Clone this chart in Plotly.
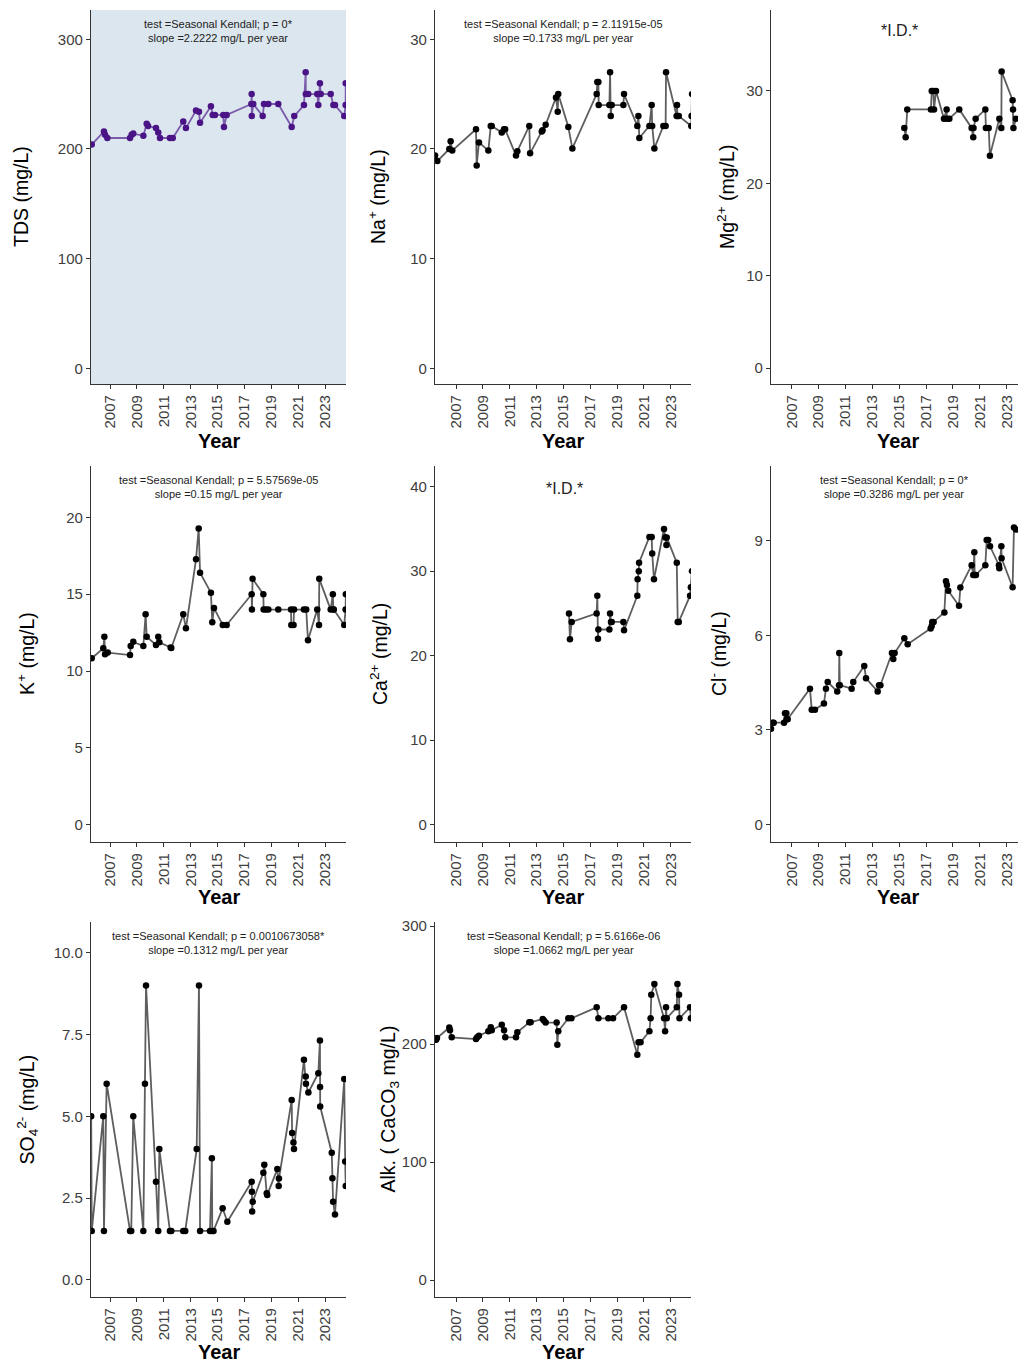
import plotly.graph_objects as go

# ---------------- data (decimal year, mg/L) ----------------
tds_year = [2005.64, 2006.55, 2006.63, 2006.80, 2008.49, 2008.61, 2008.73, 2009.48, 2009.73, 2009.83,
            2010.42, 2010.59, 2010.72, 2011.46, 2011.67, 2012.45, 2012.65, 2013.40, 2013.62, 2013.70,
            2014.51, 2014.64, 2014.81, 2015.43, 2015.48, 2015.68, 2017.52, 2017.54, 2017.55, 2017.66,
            2018.36, 2018.46, 2018.78, 2019.52, 2020.52, 2020.71, 2021.43, 2021.56, 2021.57, 2021.75,
            2022.42, 2022.50, 2022.62, 2022.68, 2023.42, 2023.62, 2023.74, 2024.43, 2024.53, 2024.54]
tds_val = [204, 216, 213, 210, 210, 213, 214, 212, 223, 221,
           219, 215, 210, 210, 210, 225, 219, 235, 234, 224,
           239, 231, 231, 231, 220, 231, 241, 250, 230, 241,
           230, 241, 241, 241, 220, 230, 240, 270, 250, 250,
           250, 240, 260, 250, 250, 240, 240, 230, 240, 260]

na_year = [2005.44, 2005.61, 2006.50, 2006.60, 2006.72, 2008.49, 2008.54, 2008.71, 2009.41, 2009.59,
           2009.66, 2010.41, 2010.58, 2010.66, 2011.47, 2011.57, 2012.46, 2012.52, 2013.39, 2013.45,
           2013.68, 2014.45, 2014.58, 2014.62, 2015.37, 2015.67, 2017.48, 2017.53, 2017.61, 2017.63,
           2018.43, 2018.48, 2018.53, 2018.60, 2019.47, 2019.52, 2020.51, 2020.59, 2020.66, 2021.41,
           2021.58, 2021.62, 2021.78, 2022.45, 2022.62, 2022.65, 2023.44, 2023.47, 2023.50, 2023.60,
           2024.53, 2024.55, 2024.58]
na_val = [19.4, 18.9, 20.0, 20.7, 19.85, 21.8, 18.5, 20.6, 19.85, 22.1,
          22.1, 21.5, 21.8, 21.8, 19.4, 19.8, 22.1, 19.6, 21.6, 21.7,
          22.2, 24.7, 23.4, 25.0, 22.0, 20.05, 25.0, 26.1, 26.1, 24.0,
          24.0, 27.0, 23.0, 24.0, 24.0, 25.0, 22.1, 23.0, 21.0, 22.1,
          24.0, 22.1, 20.05, 22.1, 22.1, 27.0, 23.0, 24.0, 23.0, 23.0,
          22.1, 23.0, 25.0]

mg_year = [2015.38, 2015.48, 2015.60, 2017.36, 2017.42, 2017.54, 2017.59, 2017.74, 2018.33, 2018.53,
           2018.55, 2018.73, 2019.47, 2020.39, 2020.51, 2020.53, 2020.69, 2021.41, 2021.45, 2021.66,
           2021.75, 2022.45, 2022.60, 2022.62, 2023.44, 2023.47, 2023.50, 2023.69]
mg_val = [26.0, 25.0, 28.0, 28.0, 30.0, 30.0, 28.0, 30.0, 27.0, 28.0,
          27.0, 27.0, 28.0, 26.0, 25.0, 26.0, 27.0, 28.0, 26.0, 26.0,
          23.0, 27.0, 26.0, 32.1, 29.0, 28.0, 26.0, 27.0]

k_year = [2005.64, 2006.50, 2006.58, 2006.63, 2006.83, 2008.49, 2008.54, 2008.73, 2009.48, 2009.65,
          2009.73, 2010.42, 2010.59, 2010.67, 2011.51, 2011.56, 2012.45, 2012.65, 2013.40, 2013.60,
          2013.70, 2014.51, 2014.61, 2014.74, 2015.39, 2015.68, 2017.54, 2017.56, 2017.61, 2018.41,
          2018.43, 2018.60, 2018.78, 2019.52, 2020.47, 2020.49, 2020.66, 2020.69, 2021.43, 2021.60,
          2021.73, 2022.42, 2022.55, 2022.57, 2023.42, 2023.58, 2023.62, 2023.65, 2024.43, 2024.53,
          2024.55]
k_val = [10.83, 11.48, 12.23, 11.10, 11.20, 11.04, 11.63, 11.90, 11.63, 13.70,
         12.23, 11.70, 12.23, 11.87, 11.54, 11.50, 13.70, 12.78, 17.27, 19.28,
         16.40, 15.10, 13.17, 14.10, 13.00, 13.00, 15.00, 14.00, 16.00, 15.00,
         14.00, 14.00, 14.00, 14.00, 14.00, 13.00, 13.00, 14.00, 14.00, 14.00,
         12.00, 14.00, 13.00, 16.00, 14.00, 15.00, 14.00, 14.00, 13.00, 14.00,
         15.00]

ca_year = [2015.42, 2015.49, 2015.62, 2017.48, 2017.53, 2017.58, 2017.61, 2018.43, 2018.48, 2018.55,
           2018.60, 2019.47, 2019.52, 2020.51, 2020.53, 2020.62, 2020.64, 2021.41, 2021.58, 2021.62,
           2021.75, 2022.50, 2022.60, 2022.68, 2022.70, 2023.45, 2023.52, 2023.60, 2024.44, 2024.50,
           2024.58]
ca_val = [25.0, 21.95, 24.0, 25.0, 27.1, 22.0, 23.1, 23.1, 25.0, 24.0,
          24.0, 24.0, 23.0, 27.1, 29.05, 30.0, 31.0, 34.06, 34.06, 32.1,
          29.05, 35.0, 34.0, 33.1, 34.0, 31.0, 24.0, 24.0, 27.1, 28.1,
          30.0]

cl_year = [2005.46, 2005.59, 2005.66, 2006.43, 2006.50, 2006.60, 2006.62, 2006.70, 2008.36, 2008.49,
           2008.73, 2009.40, 2009.55, 2009.68, 2010.39, 2010.52, 2010.54, 2010.58, 2011.46, 2011.58,
           2012.40, 2012.53, 2013.40, 2013.50, 2013.60, 2014.46, 2014.56, 2014.66, 2015.38, 2015.63,
           2017.34, 2017.42, 2017.46, 2017.56, 2018.36, 2018.48, 2018.55, 2018.65, 2019.45, 2019.55,
           2020.39, 2020.51, 2020.59, 2020.62, 2020.71, 2021.41, 2021.51, 2021.62, 2021.76, 2022.42,
           2022.45, 2022.60, 2022.62, 2023.44, 2023.54, 2023.69]
cl_val = [3.04, 3.23, 3.23, 3.23, 3.53, 3.53, 3.34, 3.34, 4.31, 3.64,
          3.64, 3.84, 4.31, 4.52, 4.22, 4.42, 5.44, 4.42, 4.31, 4.52,
          5.03, 4.64, 4.22, 4.42, 4.42, 5.44, 5.25, 5.44, 5.91, 5.72,
          6.22, 6.30, 6.43, 6.43, 6.73, 7.72, 7.60, 7.42, 6.94, 7.52,
          8.23, 7.92, 8.64, 7.92, 7.92, 8.23, 9.03, 9.03, 8.83, 8.23,
          8.13, 8.83, 8.45, 7.53, 9.43, 9.36]

so4_year = [2005.60, 2005.64, 2006.50, 2006.55, 2006.75, 2008.49, 2008.58, 2008.73, 2009.48, 2009.60,
            2009.68, 2010.42, 2010.59, 2010.67, 2011.46, 2011.56, 2012.45, 2012.60, 2013.45, 2013.62,
            2013.70, 2014.44, 2014.58, 2014.61, 2014.70, 2015.38, 2015.73, 2017.54, 2017.56, 2017.58,
            2017.62, 2018.41, 2018.48, 2018.66, 2018.70, 2019.45, 2019.55, 2019.57, 2020.52, 2020.55,
            2020.65, 2020.69, 2021.43, 2021.56, 2021.58, 2021.76, 2022.50, 2022.62, 2022.63, 2022.64,
            2023.50, 2023.55, 2023.60, 2023.74, 2024.43, 2024.50, 2024.54]
so4_val = [5.0, 1.5, 5.0, 1.5, 6.0, 1.5, 1.5, 5.0, 1.5, 6.0,
           9.0, 3.0, 1.5, 4.0, 1.5, 1.5, 1.5, 1.5, 4.0, 9.0,
           1.5, 1.5, 3.72, 1.5, 1.5, 2.19, 1.78, 3.0, 2.7, 2.09,
           2.39, 3.28, 3.52, 2.65, 2.6, 3.39, 2.87, 3.1, 5.5, 4.49,
           4.2, 4.0, 6.73, 6.22, 6.0, 5.73, 6.32, 7.32, 5.9, 5.3,
           3.89, 3.11, 2.39, 2.0, 6.14, 3.62, 2.87]

alk_year = [2005.51, 2005.58, 2006.50, 2006.55, 2006.68, 2008.49, 2008.58, 2008.71, 2009.41, 2009.59,
            2009.66, 2010.41, 2010.58, 2010.67, 2011.47, 2011.57, 2012.46, 2012.56, 2013.46, 2013.55,
            2013.68, 2014.50, 2014.55, 2014.62, 2015.37, 2015.60, 2017.48, 2017.61, 2018.35, 2018.70,
            2019.52, 2020.51, 2020.60, 2020.75, 2021.41, 2021.50, 2021.55, 2021.78, 2022.50, 2022.58,
            2022.65, 2022.70, 2023.45, 2023.50, 2023.62, 2023.65, 2024.44, 2024.50, 2024.60]
alk_val = [203.6, 205.0, 214.0, 211.6, 205.7, 204.2, 205.7, 207.0, 210.8, 214.1,
           211.7, 216.4, 211.7, 205.7, 205.7, 210.0, 218.4, 218.4, 221.2, 220.0,
           218.2, 218.2, 199.4, 210.8, 221.8, 221.8, 231.1, 221.8, 221.8, 221.8,
           231.1, 190.9, 201.4, 201.4, 210.8, 221.8, 241.8, 250.8, 221.8, 210.8,
           231.1, 221.8, 231.1, 250.8, 241.8, 221.8, 231.1, 221.8, 221.8]

# ---------------- panel definitions ----------------
W, H = 1018, 1362
col_px = [(91, 346), (435, 691), (771, 1018)]
row_px = [(10, 384), (466, 842), (922, 1297)]
year_title_px = [441, 897, 1351.5]
col_xrange = [[2005.586, 2024.56], [2005.435, 2024.51], [2005.46, 2023.84]]

panels = [
    dict(x=tds_year, y=tds_val, row=0, col=0, yrange=[-14.3, 326.7], ticks=[0, 100, 200, 300],
         title="TDS (mg/L)", tx=21, note="test =Seasonal Kendall; p = 0*<br>slope =2.2222 mg/L per year",
         hl=True),
    dict(x=na_year, y=na_val, row=0, col=1, yrange=[-1.43, 32.67], ticks=[0, 10, 20, 30],
         title="Na<sup>+</sup> (mg/L)", tx=377,
         note="test =Seasonal Kendall; p = 2.11915e-05<br>slope =0.1733 mg/L per year"),
    dict(x=mg_year, y=mg_val, row=0, col=2, yrange=[-1.73, 38.77], ticks=[0, 10, 20, 30],
         title="Mg<sup>2+</sup> (mg/L)", tx=726, id_note=(899, 31)),
    dict(x=k_year, y=k_val, row=1, col=0, yrange=[-1.12, 23.34], ticks=[0, 5, 10, 15, 20],
         title="K<sup>+</sup> (mg/L)", tx=26,
         note="test =Seasonal Kendall; p = 5.57569e-05<br>slope =0.15 mg/L per year"),
    dict(x=ca_year, y=ca_val, row=1, col=1, yrange=[-2.05, 42.45], ticks=[0, 10, 20, 30, 40],
         title="Ca<sup>2+</sup> (mg/L)", tx=379, id_note=(564, 488)),
    dict(x=cl_year, y=cl_val, row=1, col=2, yrange=[-0.56, 11.38], ticks=[0, 3, 6, 9],
         title="Cl<sup>-</sup> (mg/L)", tx=718,
         note="test =Seasonal Kendall; p = 0*<br>slope =0.3286 mg/L per year"),
    dict(x=so4_year, y=so4_val, row=2, col=0, yrange=[-0.52, 10.94], ticks=[0, 2.5, 5, 7.5, 10],
         ticktext=["0.0", "2.5", "5.0", "7.5", "10.0"],
         title="SO<sub>4</sub><sup>2-</sup> (mg/L)", tx=27,
         note="test =Seasonal Kendall; p = 0.0010673058*<br>slope =0.1312 mg/L per year"),
    dict(x=alk_year, y=alk_val, row=2, col=1, yrange=[-14.4, 303.4], ticks=[0, 100, 200, 300],
         title="Alk. ( CaCO<sub>3</sub> mg/L)", tx=389,
         note="test =Seasonal Kendall; p = 5.6166e-06<br>slope =1.0662 mg/L per year"),
]

year_ticks = list(range(2007, 2024, 2))
FONT = "Liberation Sans, Arial, sans-serif"
AXIS_COL = "#333333"
TICK_FONT = dict(family=FONT, size=15, color="#3d3d3d")


def fx(px):
    return px / W


def fy(py):
    return 1 - py / H


fig = go.Figure()
layout = dict(width=W, height=H, autosize=False, margin=dict(l=0, r=0, t=0, b=0, pad=0),
              paper_bgcolor="white", plot_bgcolor="white", showlegend=False,
              font=dict(family=FONT), annotations=[], shapes=[])

for i, p in enumerate(panels, start=1):
    suffix = "" if i == 1 else str(i)
    x0, x1 = col_px[p["col"]]
    y0, y1 = row_px[p["row"]]
    xa, ya = "xaxis" + suffix, "yaxis" + suffix
    xr, yr = "x" + suffix, "y" + suffix

    if p.get("hl"):
        line_col, mark_col = "rgba(96,52,152,0.78)", "#4b1486"
    else:
        line_col, mark_col = "#5e5e5e", "#000000"

    fig.add_trace(go.Scatter(x=p["x"], y=p["y"], xaxis=xr, yaxis=yr, mode="lines+markers",
                             line=dict(color=line_col, width=1.8),
                             marker=dict(color=mark_col, size=6.5),
                             hoverinfo="skip"))

    layout[xa] = dict(domain=[fx(x0), fx(x1)], range=col_xrange[p["col"]], anchor=yr,
                      automargin=False,
                      showgrid=False, zeroline=False, showline=True, linecolor=AXIS_COL,
                      linewidth=1.2, ticks="outside", ticklen=4, tickwidth=1, tickcolor=AXIS_COL,
                      tickvals=year_ticks, ticktext=[str(v) for v in year_ticks],
                      tickangle=-90, tickfont=TICK_FONT)
    layout[ya] = dict(domain=[fy(y1), fy(y0)], range=p["yrange"], anchor=xr,
                      automargin=False,
                      showgrid=False, zeroline=False, showline=True, linecolor=AXIS_COL,
                      linewidth=1.2, ticks="outside", ticklen=4, tickwidth=1, tickcolor=AXIS_COL,
                      tickvals=p["ticks"],
                      ticktext=p.get("ticktext", [str(v) for v in p["ticks"]]),
                      tickfont=TICK_FONT)

    if p.get("hl"):
        layout["shapes"].append(dict(type="rect", xref="paper", yref="paper",
                                     x0=fx(x0), x1=fx(x1), y0=fy(y1), y1=fy(y0),
                                     fillcolor="#dbe6ee", line=dict(width=0), layer="below"))

    # y-axis title
    layout["annotations"].append(dict(text=p["title"], xref="paper", yref="paper",
                                      x=fx(p["tx"]), y=fy((y0 + y1) / 2), textangle=-90,
                                      xanchor="center", yanchor="middle", showarrow=False,
                                      font=dict(family=FONT, size=19.5, color="#000000")))
    # x-axis title
    xc = 898 if p["col"] == 2 else (x0 + x1) / 2
    layout["annotations"].append(dict(text="<b>Year</b>", xref="paper", yref="paper",
                                      x=fx(xc), y=fy(year_title_px[p["row"]]), xanchor="center",
                                      yanchor="middle", showarrow=False,
                                      font=dict(family=FONT, size=20, color="#000000")))
    # trend test note
    if "note" in p:
        layout["annotations"].append(dict(text=p["note"], xref="paper", yref="paper",
                                          x=fx((x0 + x1) / 2), y=fy(y0 + 21), xanchor="center",
                                          yanchor="middle", showarrow=False, align="center",
                                          font=dict(family=FONT, size=11, color="#222222")))
    if "id_note" in p:
        ix, iy = p["id_note"]
        layout["annotations"].append(dict(text="*I.D.*", xref="paper", yref="paper",
                                          x=fx(ix), y=fy(iy), xanchor="center",
                                          yanchor="middle", showarrow=False,
                                          font=dict(family=FONT, size=16, color="#222222")))

fig.update_layout(**layout)
fig.write_html("out.html", config={"displayModeBar": False})
